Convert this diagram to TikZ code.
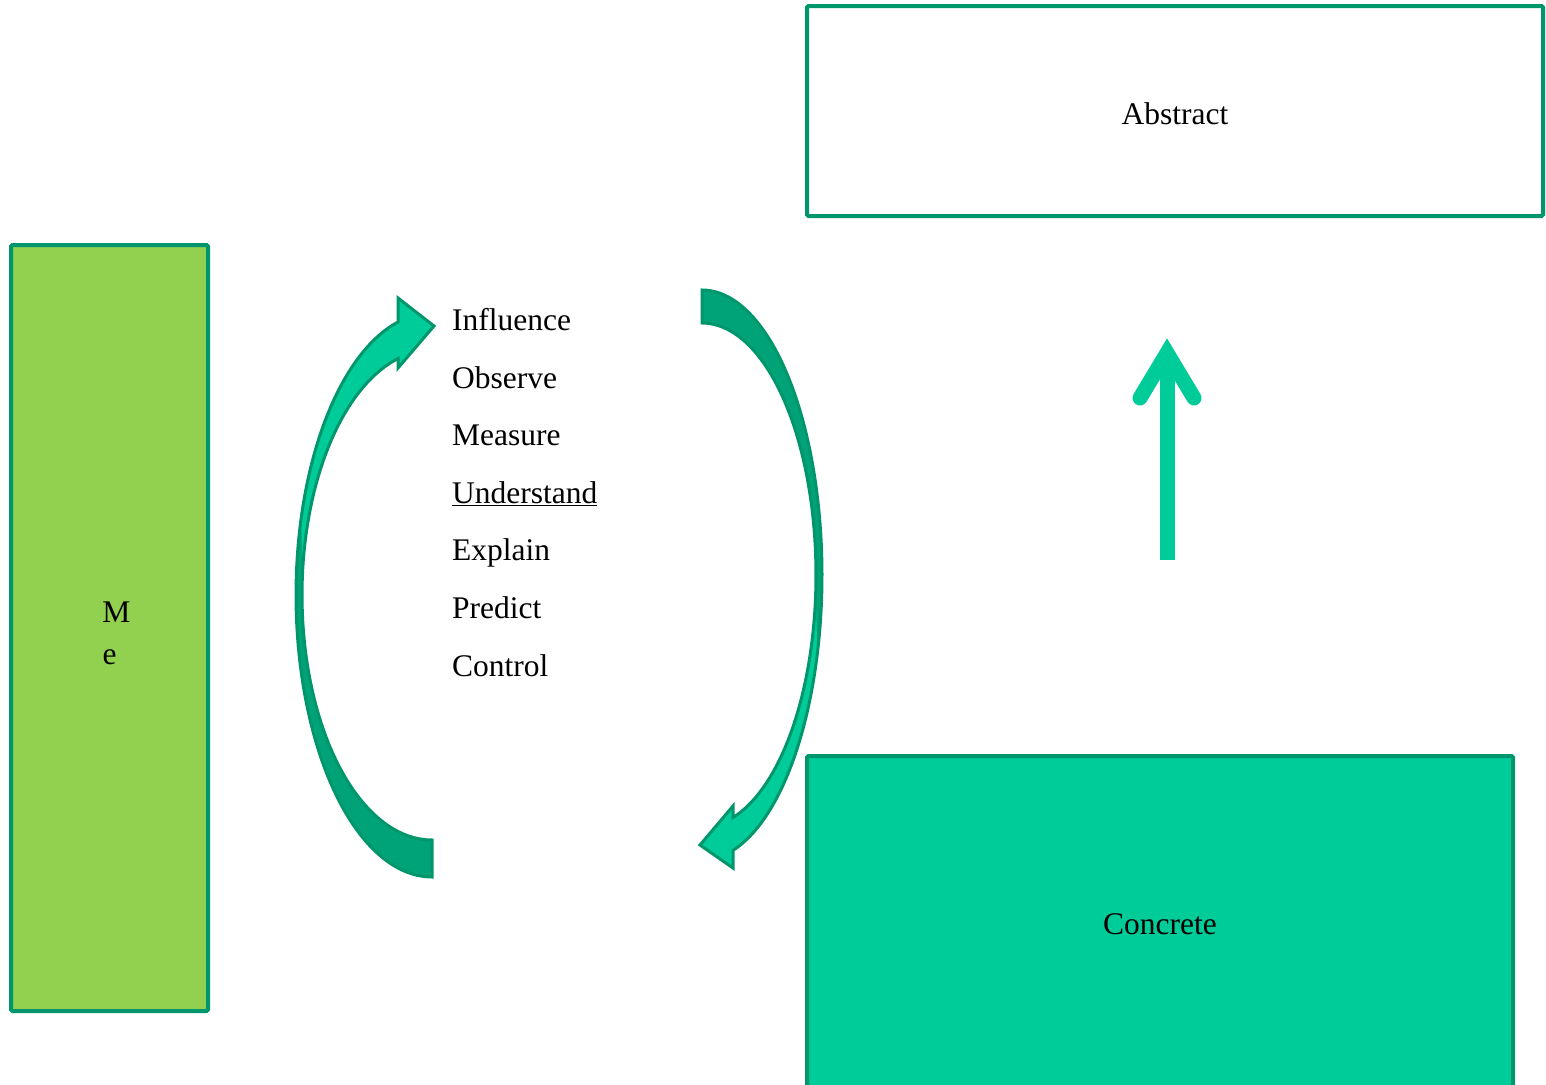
\documentclass[tikz,border=0pt]{standalone}
\usepackage{fontspec}
\setmainfont{Liberation Serif}
\definecolor{edge}{RGB}{0,150,108}
\definecolor{back}{RGB}{0,162,120}
\definecolor{front}{RGB}{0,204,153}
\definecolor{mefill}{RGB}{146,208,80}

\begin{document}
\begin{tikzpicture}[x=1pt,y=-1pt,
  word/.style={font=\fontsize{31.5}{36}\selectfont, inner sep=0pt, text=black},
  panel/.style={draw=edge, line width=4, rounded corners=1.5},
  bandline/.style={draw=edge, line width=3, line join=miter}]
\clip (0,0) rectangle (1546,1084);
\fill[white] (0,0) rectangle (1546,1084);

% panels
\draw[panel, fill=mefill] (11,245) rectangle (208,1011);
\draw[panel, fill=white] (807,6) rectangle (1543,216);
\draw[panel, fill=front] (807,756) rectangle (1513,1100);

\node[word, anchor=base] (meM) at (116.5,622) {M};
\node[word, anchor=base] (meE) at (109.5,664) {e};
\node[word, anchor=base] (abstract) at (1175,124) {Abstract};
\node[word, anchor=base] (concrete) at (1160,934) {Concrete};

% list of verbs
\node[word, anchor=base west] (w1) at (452,330) {Influence};
\node[word, anchor=base west] (w2) at (452,388) {Observe};
\node[word, anchor=base west] (w3) at (452,445) {Measure};
\node[word, anchor=base west] (w4) at (452,503) {\underline{Understand}};
\node[word, anchor=base west] (w5) at (452,560) {Explain};
\node[word, anchor=base west] (w6) at (452,618) {Predict};
\node[word, anchor=base west] (w7) at (452,676) {Control};

% left curved arrow (rising, head pointing right)
\fill[back] (432,877)
  -- plot[domain=90:255.52, samples=80, variable=\t] ({432+136*cos(\t)},{595+282*sin(\t)})
  -- (398,298) -- (434,326) -- (398,368)
  -- plot[domain=254.84:90, samples=80, variable=\t] ({432+130*cos(\t)},{595+245*sin(\t)})
  -- cycle;
\fill[front]
  plot[domain=196:255.52, samples=60, variable=\t] ({432+136*cos(\t)},{595+282*sin(\t)})
  -- (398,298) -- (434,326) -- (398,368)
  -- plot[domain=254.84:184, samples=60, variable=\t] ({432+130*cos(\t)},{595+245*sin(\t)})
  -- cycle;
\draw[bandline] (432,877)
  -- plot[domain=90:255.52, samples=80, variable=\t] ({432+136*cos(\t)},{595+282*sin(\t)})
  -- (398,298) -- (434,326) -- (398,368)
  -- plot[domain=254.84:90, samples=80, variable=\t] ({432+130*cos(\t)},{595+245*sin(\t)})
  -- cycle;

% right curved arrow (falling, head pointing left)
\fill[back] (702,290)
  -- plot[domain=-90:75.03, samples=80, variable=\t] ({702+120*cos(\t)},{575+285*sin(\t)})
  -- (733,868) -- (700,845) -- (733,806)
  -- plot[domain=74.22:-90, samples=80, variable=\t] ({702+114*cos(\t)},{575+252*sin(\t)})
  -- cycle;
\fill[front]
  plot[domain=16:75.03, samples=60, variable=\t] ({702+120*cos(\t)},{575+285*sin(\t)})
  -- (733,868) -- (700,845) -- (733,806)
  -- plot[domain=74.22:4, samples=60, variable=\t] ({702+114*cos(\t)},{575+252*sin(\t)})
  -- cycle;
\draw[bandline] (702,290)
  -- plot[domain=-90:75.03, samples=80, variable=\t] ({702+120*cos(\t)},{575+285*sin(\t)})
  -- (733,868) -- (700,845) -- (733,806)
  -- plot[domain=74.22:-90, samples=80, variable=\t] ({702+114*cos(\t)},{575+252*sin(\t)})
  -- cycle;

% upward arrow
\coordinate (upfoot) at (1167,560);
\coordinate (uptop) at (1167,365);
\draw[front, line width=15] (upfoot) -- (uptop);
\draw[front, line width=15, line cap=round, line join=miter] (1140,398) -- (1167,353) -- (1194,398);
\end{tikzpicture}
\end{document}
